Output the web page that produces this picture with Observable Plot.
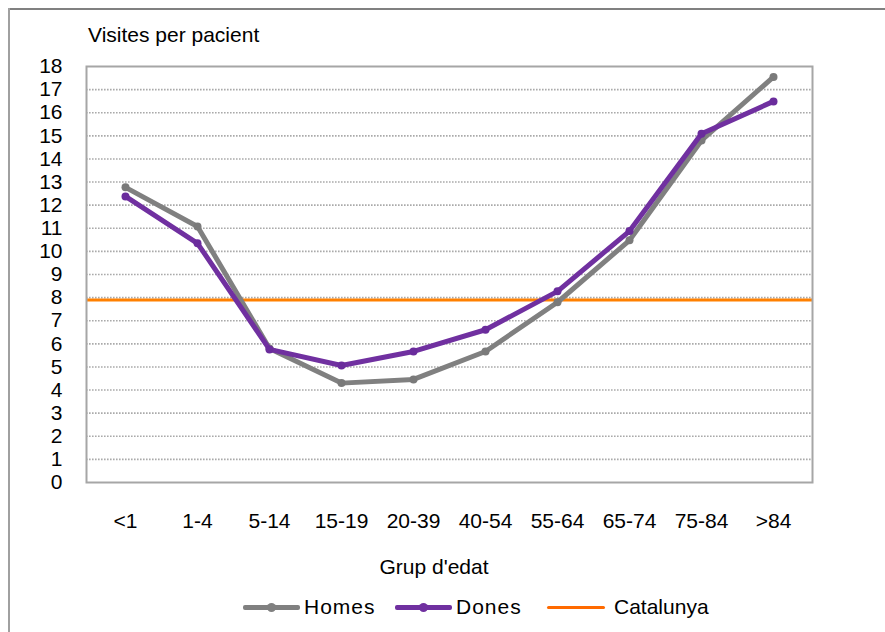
<!DOCTYPE html>
<html>
<head>
<meta charset="utf-8">
<script src="https://cdn.jsdelivr.net/npm/d3@7"></script>
<script src="https://cdn.jsdelivr.net/npm/@observablehq/plot@0.6"></script>
<style>
  html, body { margin: 0; padding: 0; background: #fff; }
  #wrap { position: relative; width: 885px; height: 632px; overflow: hidden; font-family: "Liberation Sans", Arial, sans-serif; color: #000; }
  #bt { position: absolute; left: 8px; top: 8px; width: 877px; height: 2px; background: #808080; }
  #bl { position: absolute; left: 8px; top: 8px; width: 2px; height: 624px; background: #a0a0a0; }
  #chart { position: absolute; left: 0; top: 0; }
  .txt { position: absolute; font-size: 21px; line-height: 24px; white-space: nowrap; }
  .legend { position: absolute; top: 595px; left: 0; width: 885px; height: 24px; }
  .sw { position: absolute; top: 10px; height: 5px; border-radius: 2px; }
  .mk { position: absolute; top: 8px; width: 9px; height: 9px; border-radius: 50%; }
  .lab { position: absolute; top: 0; font-size: 21px; line-height: 24px; white-space: nowrap; }
</style>
</head>
<body>
<div id="wrap">
  <div id="chart"></div>
  <div id="bt"></div>
  <div id="bl"></div>
  <div class="txt" id="title" style="left:88px; top:23px;">Visites per pacient</div>
  <div class="txt" id="xlab" style="left:0; width:868px; text-align:center; top:555px;">Grup d'edat</div>
  <div class="legend" id="legend"></div>
</div>
<script>
const ages = ["<1", "1-4", "5-14", "15-19", "20-39", "40-54", "55-64", "65-74", "75-84", ">84"];
const homes = [12.77, 11.08, 5.8, 4.3, 4.46, 5.67, 7.8, 10.48, 14.8, 17.55];
const dones = [12.38, 10.35, 5.76, 5.06, 5.67, 6.61, 8.27, 10.88, 15.09, 16.49];
const catalunya = 7.9;
const yTicks = d3.range(0, 19);
const gridTicks = d3.range(1, 18);

const homesData = ages.map((a, i) => ({age: a, v: homes[i]}));
const donesData = ages.map((a, i) => ({age: a, v: dones[i]}));

const colHomes = "#808080";
const colDones = "#7030a0";
const colCat = "#ff8000";

const chart = Plot.plot({
  width: 885,
  height: 632,
  marginLeft: 86,
  marginRight: 73,
  marginTop: 66,
  marginBottom: 150,
  style: {fontFamily: "'Liberation Sans', Arial, sans-serif", fontSize: "21px", color: "#000", background: "transparent"},
  x: {type: "point", domain: ages, padding: 0.5, label: null},
  y: {domain: [0, 18], label: null},
  marks: [
    Plot.ruleY(gridTicks, {stroke: "#aaaaaa", strokeWidth: 1.6, strokeDasharray: "1.6,1.4"}),
    Plot.ruleY([catalunya], {stroke: colCat, strokeWidth: 3}),
    Plot.line(homesData, {x: "age", y: "v", stroke: colHomes, strokeWidth: 5, strokeLinejoin: "round"}),
    Plot.dot(homesData, {x: "age", y: "v", r: 4, fill: "#7a7a7a", stroke: "none"}),
    Plot.line(donesData, {x: "age", y: "v", stroke: colDones, strokeWidth: 5, strokeLinejoin: "round"}),
    Plot.dot(donesData, {x: "age", y: "v", r: 4, fill: "#6a2c9c", stroke: "none"}),
    Plot.frame({stroke: "#a6a6a6", strokeWidth: 2}),
    Plot.axisY(yTicks, {tickSize: 0, tickPadding: 24, fontSize: 21, label: null}),
    Plot.axisX({tickSize: 0, tickPadding: 31, fontSize: 21, label: null})
  ]
});
document.getElementById("chart").appendChild(chart);

const legendItems = [
  {name: "Homes", color: colHomes, x: 243, w: 57, marker: true, tx: 304, ls: "1px"},
  {name: "Dones", color: colDones, x: 395, w: 57, marker: true, tx: 456, ls: "1px"},
  {name: "Catalunya", color: "#ff6a00", x: 547, w: 58, marker: false, tx: 614, ls: "0px"}
];
const leg = document.getElementById("legend");
for (const it of legendItems) {
  const sw = document.createElement("div");
  sw.className = "sw";
  sw.style.left = it.x + "px";
  sw.style.width = it.w + "px";
  sw.style.background = it.color;
  if (!it.marker) { sw.style.height = "3px"; sw.style.top = "11px"; }
  leg.appendChild(sw);
  if (it.marker) {
    const mk = document.createElement("div");
    mk.className = "mk";
    mk.style.left = (it.x + it.w / 2 - 4.5) + "px";
    mk.style.background = it.color;
    leg.appendChild(mk);
  }
  const lab = document.createElement("div");
  lab.className = "lab";
  lab.style.left = it.tx + "px";
  lab.style.letterSpacing = it.ls;
  lab.textContent = it.name;
  leg.appendChild(lab);
}
</script>
</body>
</html>
